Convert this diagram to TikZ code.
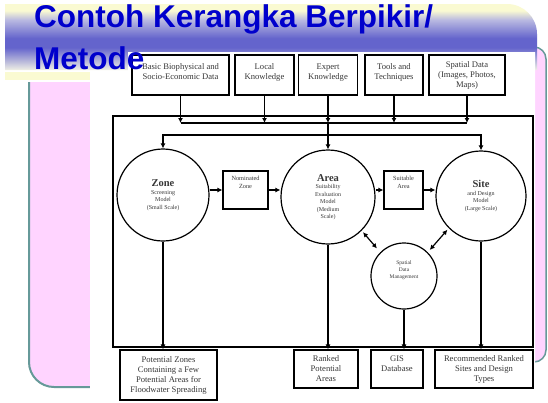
\documentclass[tikz,border=0pt]{standalone}
\usepackage{fontspec}
\setmainfont{Liberation Serif}
\newfontfamily\headfont{Liberation Sans}
\usepackage{tikz}
\usetikzlibrary{arrows.meta,positioning}
\usepackage{xcolor}

\definecolor{headblue}{RGB}{0,0,204}
\definecolor{bandblue}{RGB}{100,100,204}
\definecolor{bandyellow}{RGB}{250,250,210}
\definecolor{bandlav}{RGB}{185,185,225}
\definecolor{bandcream}{RGB}{240,240,228}
\definecolor{panelpink}{RGB}{255,212,255}
\definecolor{panelteal}{RGB}{102,153,153}
\definecolor{ink}{RGB}{55,55,55}

\pgfdeclareverticalshading{titleband}{100bp}{color(0bp)=(bandcream); color(25bp)=(bandcream); color(42bp)=(bandblue); color(49bp)=(bandblue); color(63bp)=(bandlav); color(70bp)=(bandyellow); color(100bp)=(bandyellow)}

\begin{document}
\begin{tikzpicture}[
  x=1pt,y=-1pt,
  heading/.style={anchor=base west,inner sep=0pt,text=headblue,font=\headfont\bfseries\fontsize{31.5}{32}\selectfont},
  box/.style={draw,line width=1.1pt,align=center,inner sep=0pt,text=ink,font=\fontsize{8.6}{10}\selectfont},
  tag/.style={draw,line width=1.1pt,align=center,inner sep=0pt,text=ink,font=\fontsize{6.3}{8}\selectfont},
  circ/.style={draw,circle,line width=1.2pt,align=center,inner sep=0pt,text=ink,font=\fontsize{6}{7.5}\selectfont},
  arr/.style={-{Latex[length=5pt,width=5pt]},line width=1.1pt},
  darr/.style={{Latex[length=5pt,width=5pt]}-{Latex[length=5pt,width=5pt]},line width=1.2pt}
]
\useasboundingbox (0,0) rectangle (548,402);
\fill[white] (0,0) rectangle (548,402);

% slide background
\shade[top color=panelpink,middle color=white,bottom color=panelpink,draw=panelteal,line width=1.5pt,rounded corners=12pt] (470,47) rectangle (546,362);
\shade[top color=panelpink,middle color=white,bottom color=panelpink] (120,82) -- (29,82) -- (29,362) .. controls (29,375.8) and (40.2,387) .. (54,387) -- (120,387) -- cycle;
\draw[panelteal,line width=2pt] (29,82) -- (29,362) .. controls (29,375.8) and (40.2,387) .. (54,387) -- (120,387);
\shade[shading=titleband] (5,4) -- (507,4) .. controls (523.6,4) and (537,17.4) .. (537,34) -- (537,70) -- (5,70) -- cycle;
\fill[bandyellow] (5,72) rectangle (90,80);
\fill[white] (128,52) -- (535,52) -- (535,402) -- (90,402) -- (90,72) -- (128,72) -- cycle;

% inputs
\node[box,minimum width=97pt,minimum height=40pt] (basic) at (180.5,75) {Basic Biophysical and\\Socio-Economic Data\\[-4pt]};
\node[box,minimum width=59pt,minimum height=40pt] (local) at (264.5,75) {Local\\Knowledge\\[-4pt]};
\node[box,minimum width=59pt,minimum height=40pt] (expert) at (328,75) {Expert\\Knowledge\\[-4pt]};
\node[box,minimum width=58pt,minimum height=40pt] (tools) at (394,75) {Tools and\\Techniques\\[-4pt]};
\node[box,minimum width=76pt,minimum height=40pt] (spatial) at (467,75) {Spatial Data\\(Images, Photos,\\Maps)};

\draw[line width=1.3pt] (113,116) rectangle (533,347);
\coordinate (bus) at (0,123);
\coordinate (split) at (0,135);

% models
\node[circ,minimum size=92pt] (zone) at (163,195) {{\fontsize{10.5}{12}\selectfont\bfseries Zone}\\Screening\\Model\\(Small Scale)};
\node[circ,minimum size=94pt] (area) at (328,197) {{\fontsize{10.5}{12}\selectfont\bfseries Area}\\Suitability\\Evaluation\\Model\\(Medium\\Scale)};
\node[circ,minimum size=90pt] (site) at (481,196) {{\fontsize{10.5}{12}\selectfont\bfseries Site}\\and Design\\Model\\(Large Scale)};
\node[circ,minimum size=66pt,font=\fontsize{5.5}{7}\selectfont] (sdm) at (404,276) {Spatial\\Data\\Management\\[6pt]};
\node[tag,minimum width=45pt,minimum height=38pt] (nominated) at (245.5,190) {Nominated\\Zone\\[8pt]};
\node[tag,minimum width=39pt,minimum height=38pt] (suitable) at (403.5,190) {Suitable\\Area\\[8pt]};

% outputs
\node[box,minimum width=97pt,minimum height=50pt] (zones) at (168.5,375) {Potential Zones\\Containing a Few\\Potential Areas for\\Floodwater Spreading};
\node[box,minimum width=64pt,minimum height=38pt] (ranked) at (326,369) {Ranked\\Potential\\Areas};
\node[box,minimum width=52pt,minimum height=38pt] (gis) at (397,369) {GIS\\Database\\[0pt]};
\node[box,minimum width=98pt,minimum height=38pt] (recommended) at (484,369) {Recommended Ranked\\Sites and Design\\Types};

\draw[arr] (basic.south) -- (basic.south |- bus);
\draw[arr] (local.south) -- (local.south |- bus);
\draw[arr] (expert.south) -- (expert.south |- bus);
\draw[arr] (tools.south) -- (tools.south |- bus);
\draw[arr] (spatial.south) -- (spatial.south |- bus);
\draw[line width=1.1pt] (basic.south |- bus) -- (spatial.south |- bus);
\draw[arr] (area |- bus) -- (area);
\draw[arr] (area |- split) -| (zone);
\draw[arr] (area |- split) -| (site);
\draw[arr] (zone.east |- nominated) -- (nominated);
\draw[arr] (nominated) -- (nominated -| area.west);
\draw[arr] (area.east |- suitable) -- (suitable);
\draw[arr] (suitable) -- (suitable -| site.west);
\draw[darr,shorten <=2pt,shorten >=5pt] (area.-45) -- (sdm.135);
\draw[darr,shorten <=2pt,shorten >=3pt] (site.-135) -- (sdm.45);
\draw[arr] (zone) -- (zone |- zones.north);
\draw[arr] (area) -- (area |- ranked.north);
\draw[arr] (sdm) -- (sdm |- gis.north);
\draw[arr] (site) -- (site |- recommended.north);

\node[heading] (title) at (34,27) {Contoh Kerangka Berpikir/};
\node[heading] (subtitle) at (34,69) {Metode};
\end{tikzpicture}
\end{document}
